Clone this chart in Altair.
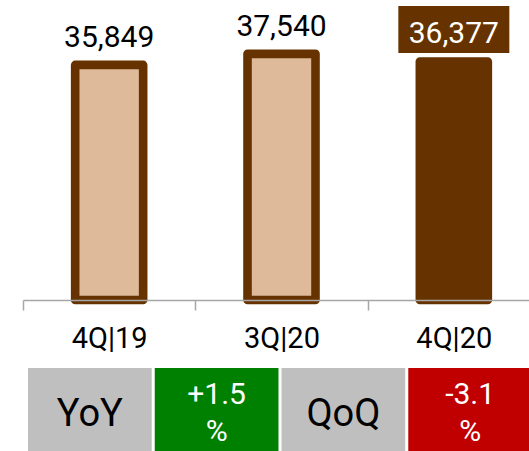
import altair as alt
import pandas as pd

# Quarterly figures
quarters = ["4Q|19", "3Q|20", "4Q|20"]
revenue = [35849, 37540, 36377]
highlight = [False, False, True]

# Change summary shown under the bars
metrics = ["YoY", "QoQ"]
changes = [1.5, -3.1]

FONT = "Roboto"
BROWN = "#663300"
TAN = "#DEBA9B"
GRAY = "#BFBFBF"
UP = "#008000"
DOWN = "#C00000"
AXIS_GRAY = "#A6A6A6"

W, H = 529, 451
BASE_Y = 300

bars_df = pd.DataFrame({"quarter": quarters, "revenue": revenue, "current": highlight})
bars_df["label"] = [f"{v:,}" for v in revenue]

rows = []
for m, c in zip(metrics, changes):
    rows.append({"slot": m, "text": m, "fill": GRAY, "kind": "name"})
    rows.append({"slot": m + " chg", "text": f"{c:+.1f}\n%",
                 "fill": UP if c >= 0 else DOWN, "kind": "value"})
cells_df = pd.DataFrame(rows)
slots = list(cells_df["slot"])

x_q = alt.X(
    "quarter:N", sort=quarters, title=None,
    scale=alt.Scale(range=[23, 540], paddingInner=0, paddingOuter=0),
    axis=alt.Axis(
        labelAngle=0, tickBand="extent", offset=BASE_Y - H,
        domainColor=AXIS_GRAY, domainWidth=1.5, tickColor=AXIS_GRAY, tickWidth=1.5,
        tickSize=10, labelFont=FONT, labelFontSize=29, labelColor="black",
        labelPadding=14, zindex=1, grid=False,
    ),
)
y_rev = alt.Y("revenue:Q", scale=alt.Scale(domain=[0, 45750], range=[BASE_Y, 0]), axis=None)

base = alt.Chart(bars_df).encode(x=x_q, y=y_rev)

bars = base.mark_bar(width=68, stroke=BROWN, strokeWidth=8.6, strokeJoin="round").encode(
    fill=alt.condition("datum.current", alt.value(BROWN), alt.value(TAN))
)

# dark tag behind the current quarter's value
tag = base.transform_filter("datum.current").mark_bar(
    width=111, color=BROWN, yOffset=-55.4, y2Offset=-8.4
).encode(y2=alt.Y2("revenue:Q"))

labels = base.mark_text(font=FONT, fontSize=30, baseline="alphabetic", dy=-18).encode(
    text="label:N",
    color=alt.condition("datum.current", alt.value("white"), alt.value("black")),
)

x_s = alt.X(
    "slot:N", sort=slots, title=None,
    scale=alt.Scale(range=[28, 532], paddingInner=0.024, paddingOuter=0),
    axis=None,
)
cell_base = alt.Chart(cells_df).encode(x=x_s)
cells = cell_base.mark_bar().encode(
    y=alt.value(368), y2=alt.value(H + 10), fill=alt.Fill("fill:N", scale=None)
)
cell_names = cell_base.transform_filter("datum.kind == 'name'").mark_text(
    font=FONT, fontSize=38, color="black"
).encode(y=alt.value(415), text="text:N")
# two-line value text: first line sits at the given y, second line below it
cell_vals = cell_base.transform_filter("datum.kind == 'value'").mark_text(
    font=FONT, fontSize=30, lineBreak="\n", lineHeight=37, color="white"
).encode(y=alt.value(395), text="text:N")

chart = (
    alt.layer(alt.layer(bars, tag, labels), alt.layer(cells, cell_names, cell_vals))
    .resolve_scale(x="independent")
    .properties(width=W, height=H, autosize="none", padding=0)
    .configure_view(stroke=None)
)

chart.save("out.html", embed_options={"renderer": "svg", "actions": False})
